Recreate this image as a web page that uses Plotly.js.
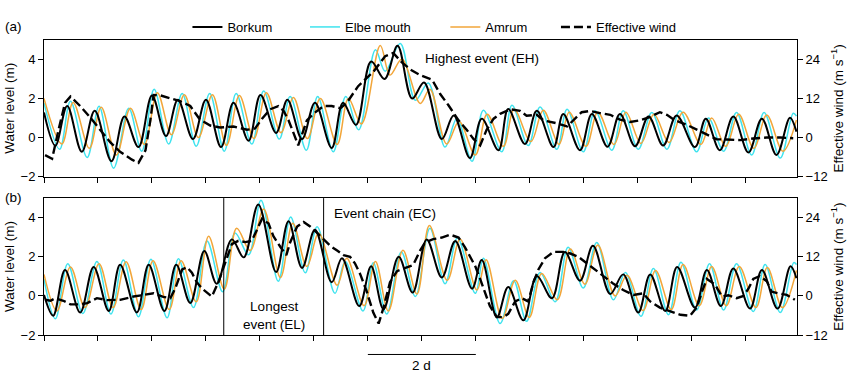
<!DOCTYPE html>
<html>
<head>
<meta charset="utf-8">
<script src="https://cdn.plot.ly/plotly-3.0.1.min.js"></script>
<style>html,body{margin:0;padding:0;background:#fff;}#chart{width:850px;height:373px;}</style>
</head>
<body>
<div id="chart"></div>
<script>
// ---------- Panel (a): highest event ----------
// times in days from start of window; water levels in m; wind in m/s
var aBorkumT = [0.00,0.21,0.43,0.70,0.94,1.25,1.49,1.75,2.00,2.26,2.48,2.76,3.00,3.28,3.51,3.79,4.01,4.30,4.51,4.78,5.02,5.33,5.54,5.78,6.06,6.31,6.55,6.82,7.04,7.37,7.59,7.89,8.11,8.42,8.60,8.91,9.13,9.44,9.62,9.93,10.15,10.44,10.67,10.95,11.20,11.47,11.72,12.06,12.26,12.52,12.77,13.05,13.30,13.57,13.82,13.94];
var aBorkum  = [1.29,-0.41,1.62,-0.73,1.37,-1.21,1.08,-0.49,2.15,0.08,1.94,-0.08,1.94,-0.49,1.78,-0.16,2.18,0.24,1.94,-0.08,1.78,-0.53,1.78,0.65,3.90,3.00,4.70,2.00,2.82,-0.08,1.13,-1.05,0.97,-0.65,1.46,-0.33,1.37,-0.49,1.21,-0.65,1.21,-0.47,1.21,-0.44,1.08,-0.41,1.13,-0.49,0.97,-0.65,1.08,-0.76,0.97,-0.89,1.02,0.30];

var aElbeT = [0.00,0.29,0.49,0.80,1.02,1.29,1.57,1.81,2.04,2.31,2.56,2.82,3.07,3.34,3.56,3.85,4.07,4.36,4.56,4.86,5.07,5.36,5.59,5.83,6.14,6.32,6.60,6.88,7.12,7.43,7.65,7.93,8.14,8.48,8.67,8.97,9.19,9.50,9.69,9.99,10.21,10.52,10.73,11.01,11.26,11.54,11.78,12.09,12.31,12.59,12.83,13.11,13.34,13.64,13.88,13.94];
var aElbe  = [1.78,-0.60,1.86,-1.02,1.60,-1.57,1.50,-0.70,2.48,-0.33,2.26,-0.44,2.26,-0.70,2.26,-0.33,2.38,-0.08,2.10,-0.65,2.10,-0.73,2.10,0.40,4.50,3.40,4.82,1.91,2.80,-0.49,0.98,-1.21,1.40,-0.73,1.66,-0.41,1.57,-0.60,1.45,-0.73,1.37,-0.65,1.37,-0.60,1.29,-0.60,1.37,-0.73,1.00,-0.70,1.29,-0.89,1.29,-1.05,1.25,1.10];

var aAmrumT = [0.00,0.33,0.54,0.84,1.06,1.34,1.60,1.86,2.10,2.36,2.60,2.86,3.12,3.38,3.62,3.89,4.12,4.39,4.62,4.88,5.12,5.43,5.64,5.88,6.23,6.41,6.63,6.97,7.15,7.46,7.69,7.99,8.21,8.51,8.71,9.02,9.25,9.54,9.73,10.04,10.26,10.56,10.78,11.06,11.30,11.58,11.84,12.17,12.37,12.63,12.87,13.15,13.39,13.69,13.94];
var aAmrum  = [2.00,-0.33,1.80,-0.55,1.55,-0.90,1.50,-0.35,2.30,0.15,2.20,0.00,2.20,-0.40,2.15,-0.05,2.30,0.25,2.05,-0.05,2.00,-0.35,2.00,0.70,4.72,3.20,4.01,1.75,2.48,-0.33,0.82,-0.89,1.20,-0.45,1.45,-0.20,1.40,-0.35,1.30,-0.45,1.30,-0.35,1.30,-0.30,1.20,-0.25,1.30,-0.35,1.00,-0.45,1.20,-0.55,1.15,-0.70,0.90];

var aWindT = [0.02,0.15,0.27,0.39,0.49,0.67,0.86,1.04,1.23,1.41,1.63,1.75,1.88,1.97,2.03,2.15,2.34,2.52,2.71,2.89,3.08,3.26,3.51,3.76,3.91,4.04,4.19,4.34,4.44,4.53,4.62,4.71,4.81,4.87,4.99,5.18,5.33,5.49,5.61,5.82,6.10,6.32,6.47,6.63,6.81,6.97,7.19,7.34,7.49,7.68,7.83,7.96,8.08,8.20,8.33,8.45,8.64,8.82,8.94,9.13,9.25,9.50,9.69,9.81,9.96,10.12,10.30,10.49,10.67,10.86,11.04,11.22,11.41,11.54,11.69,11.91,12.09,12.28,12.46,12.65,12.90,13.14,13.39,13.64,13.88];
var aWind  = [-5.4,-6.5,2.4,10.7,12.6,9.7,6.1,2.4,-1.5,-4.4,-6.8,-7.8,-3.9,5.3,13.1,13.0,12.1,11.2,9.7,5.5,3.7,3.1,3.4,2.4,2.8,5.8,8.7,9.7,8.2,5.3,1.5,-2.4,2.4,5.3,7.3,9.7,9.7,9.0,10.7,15.8,20.2,25.0,26.0,23.1,20.7,19.2,17.8,13.4,10.0,5.3,2.4,-0.5,-2.4,2.4,5.8,7.3,8.7,8.2,6.7,7.0,5.3,4.4,3.4,5.3,7.8,8.2,7.5,7.0,5.5,4.8,5.3,6.3,7.8,7.0,5.3,3.9,2.4,1.0,-0.5,-0.6,-0.8,-0.3,0.0,0.0,-0.2];

// ---------- Panel (b): longest event and event chain ----------
var bBorkumT = [0.00,0.17,0.39,0.67,0.92,1.20,1.41,1.72,1.94,2.23,2.45,2.71,2.97,3.20,3.48,3.70,3.97,4.30,4.53,4.78,5.02,5.33,5.52,5.84,6.06,6.29,6.57,6.83,7.09,7.37,7.62,7.93,8.11,8.39,8.60,8.88,9.13,9.41,9.65,9.93,10.17,10.49,10.73,11.01,11.23,11.51,11.73,12.06,12.28,12.54,12.77,13.08,13.30,13.59,13.83,13.94];
var bBorkum  = [0.05,-1.01,1.32,-0.85,1.48,-0.77,1.59,-0.85,1.59,-0.77,1.59,-0.36,2.29,0.62,2.89,1.97,4.68,1.22,3.82,1.43,3.38,0.70,1.92,-0.52,1.51,-0.68,2.00,0.17,2.89,0.94,2.81,0.37,1.83,-1.09,0.45,-1.25,1.02,-0.12,2.24,0.78,2.57,0.10,1.10,-0.85,1.10,-0.77,1.48,-0.60,1.32,-0.52,1.40,-0.65,1.32,-0.65,1.51,0.90];

var bElbeT = [0.00,0.21,0.44,0.72,0.98,1.24,1.47,1.75,1.98,2.28,2.49,2.77,3.02,3.31,3.54,3.79,4.02,4.34,4.57,4.84,5.06,5.39,5.58,5.91,6.10,6.35,6.62,6.88,7.15,7.43,7.66,7.99,8.14,8.45,8.70,8.94,9.19,9.47,9.71,9.99,10.24,10.55,10.77,11.06,11.29,11.57,11.80,12.09,12.33,12.59,12.83,13.14,13.36,13.64,13.89,13.94];
var bElbe  = [0.86,-1.17,1.64,-0.90,1.76,-0.93,1.84,-1.07,1.87,-1.12,1.90,-0.60,2.81,0.21,3.22,2.10,4.89,0.75,4.03,1.18,3.54,0.13,1.76,-0.77,1.70,-0.93,2.25,-0.03,3.46,0.62,2.97,0.13,1.92,-1.41,0.78,-1.30,1.20,-0.30,2.49,0.40,2.73,-0.20,1.19,-1.04,1.40,-0.96,1.72,-0.72,1.64,-0.72,1.64,-0.80,1.60,-0.85,1.70,1.60];

var bAmrumT = [0.00,0.24,0.49,0.76,1.02,1.28,1.52,1.80,2.02,2.32,2.54,2.82,3.05,3.34,3.57,3.82,4.07,4.38,4.61,4.87,5.09,5.43,5.61,5.93,6.14,6.38,6.65,6.91,7.14,7.47,7.71,8.02,8.19,8.49,8.73,8.99,9.22,9.51,9.75,10.02,10.26,10.58,10.80,11.10,11.33,11.62,11.84,12.14,12.37,12.64,12.88,13.19,13.40,13.68,13.94];
var bAmrum  = [1.10,-0.77,1.48,-0.60,1.65,-0.60,1.75,-0.70,1.80,-0.70,1.80,-0.30,3.05,0.35,3.46,2.32,4.44,0.94,3.72,1.50,3.20,0.55,1.92,-0.50,1.76,-0.77,2.33,0.10,3.60,0.80,2.90,0.30,1.85,-1.15,0.80,-1.10,1.15,-0.20,2.40,0.60,2.60,0.00,1.05,-0.75,1.30,-0.70,1.60,-0.50,1.50,-0.50,1.50,-0.60,1.45,-0.60,1.30];

var bWindT = [0.02,0.12,0.21,0.36,0.49,0.67,0.80,0.98,1.17,1.41,1.66,1.84,2.03,2.21,2.34,2.43,2.56,2.65,2.74,2.83,2.93,3.02,3.11,3.23,3.36,3.48,3.60,3.73,3.85,3.94,4.04,4.16,4.25,4.38,4.49,4.56,4.69,4.81,4.93,5.06,5.18,5.30,5.43,5.55,5.67,5.76,5.86,5.98,6.10,6.20,6.29,6.41,6.54,6.69,6.84,6.97,7.06,7.21,7.37,7.52,7.68,7.80,7.89,7.99,8.08,8.17,8.26,8.39,8.51,8.60,8.73,8.85,8.97,9.07,9.16,9.28,9.44,9.62,9.75,9.90,10.06,10.18,10.30,10.43,10.55,10.73,10.92,11.10,11.23,11.41,11.60,11.79,11.97,12.09,12.19,12.28,12.43,12.56,12.68,12.83,12.96,13.05,13.14,13.26,13.39,13.48,13.60,13.76,13.91];
var bWind  = [-1.2,-1.5,-0.7,-1.5,-2.6,-2.6,-2.2,-0.7,-1.3,-1.2,-0.2,0.3,0.8,-0.3,-0.7,2.2,8.1,8.8,7.1,4.2,2.2,1.0,-0.2,4.2,10.0,15.9,16.9,16.5,16.9,20.3,23.7,22.2,18.3,15.0,12.5,16.4,21.3,22.7,21.3,19.3,17.4,15.4,13.9,12.5,12.0,10.0,6.6,1.3,-5.1,-8.5,-3.6,4.2,7.6,8.5,9.5,14.0,16.4,17.4,17.9,18.8,17.9,14.9,12.0,9.1,5.2,1.3,-3.1,-6.5,-6.5,-5.5,-1.7,-0.7,-1.7,4.2,8.1,11.5,13.5,13.5,13.0,12.0,10.0,8.6,7.1,5.2,3.7,1.8,0.3,0.8,-1.7,-3.6,-4.8,-5.8,-6.1,-3.6,1.3,5.2,3.5,-0.2,0.2,-0.7,0.0,2.2,5.2,6.1,4.5,1.3,0.8,0.3,-1.2];

// ---------- Labels ----------
var seriesNames = ['Borkum', 'Elbe mouth', 'Amrum', 'Effective wind'];
var seriesColors = ['#000000', '#3FE3EE', '#F2A63A', '#000000'];
var panelLabels = ['(a)', '(b)'];
var eventBounds = [3.33, 5.18];         // start/end of longest event (EL), days
var scaleBarDays = [6, 8];              // "2 d" scale bar
var xRangeDays = [0, 13.95];

var FONT = 'Liberation Sans, Arial, Helvetica, sans-serif';
var legendIds = ['legend', 'legend2', 'legend3', 'legend4'];

function tide(x, y, i, xa, ya, show) {
  return {x: x, y: y, type: 'scatter', mode: 'lines', name: seriesNames[i],
    xaxis: xa, yaxis: ya, showlegend: show, legend: legendIds[i],
    line: {color: seriesColors[i], width: i === 0 ? 2 : 1.5, shape: 'spline', smoothing: 1},
    hoverinfo: 'skip'};
}
function wind(x, y, xa, ya, show) {
  return {x: x, y: y, type: 'scatter', mode: 'lines', name: seriesNames[3],
    xaxis: xa, yaxis: ya, showlegend: show, legend: legendIds[3],
    line: {color: seriesColors[3], width: 2.4, dash: '9px,4px'}, hoverinfo: 'skip'};
}

var data = [
  tide(aElbeT, aElbe, 1, 'x', 'y', true),
  tide(aAmrumT, aAmrum, 2, 'x', 'y', true),
  tide(aBorkumT, aBorkum, 0, 'x', 'y', true),
  wind(aWindT, aWind, 'x', 'y2', true),
  tide(bElbeT, bElbe, 1, 'x2', 'y3', false),
  tide(bAmrumT, bAmrum, 2, 'x2', 'y3', false),
  tide(bBorkumT, bBorkum, 0, 'x2', 'y3', false),
  wind(bWindT, bWind, 'x2', 'y4', false)
];

var xCommon = {range: xRangeDays, showticklabels: false, ticks: 'outside', ticklen: 5, tickwidth: 1,
  tickcolor: '#000', tick0: 0, dtick: 1, showgrid: false, zeroline: false,
  showline: true, linecolor: '#000', linewidth: 1, mirror: true};
function yLeft(domain, anchor) {
  return {domain: domain, anchor: anchor, range: [-2, 5], tickvals: [-2, 0, 2, 4], ticktext: ['\u22122','0','2','4'],
    ticks: 'outside', ticklen: 5, tickcolor: '#000', showgrid: false, zeroline: false,
    showline: true, linecolor: '#000', linewidth: 1, mirror: true,
    tickfont: {size: 13, color: '#000'},
    title: {text: 'Water level (m)', font: {size: 13.5, color: '#000'}, standoff: 2}};
}
function yRight(over, anchor) {
  return {overlaying: over, anchor: anchor, side: 'right', range: [-12, 30],
    tickvals: [-12, 0, 12, 24], ticktext: ['\u221212','0','12','24'],
    ticks: 'outside', ticklen: 5, tickcolor: '#000', showgrid: false, zeroline: false,
    showline: false, tickfont: {size: 13, color: '#000'},
    title: {text: 'Effective wind (m s<sup>\u22121</sup>)', font: {size: 13.5, color: '#000'}, standoff: 6}};
}
function leg(xp) {
  return {orientation: 'h', x: xp, xanchor: 'left', y: 1.095, yanchor: 'top',
    font: {size: 13, color: '#000'}, bgcolor: 'rgba(0,0,0,0)', borderwidth: 0};
}

var layout = {
  width: 850, height: 373,
  margin: {l: 44, r: 53, t: 26, b: 38},
  paper_bgcolor: '#fff', plot_bgcolor: '#fff',
  font: {family: FONT, color: '#000', size: 13},
  showlegend: true,
  legend: leg(0.1905), legend2: leg(0.3466), legend3: leg(0.5330), legend4: leg(0.6799),
  xaxis: Object.assign({domain: [0, 1], anchor: 'y'}, xCommon),
  yaxis: yLeft([0.537, 1], 'x'),
  yaxis2: yRight('y', 'x'),
  xaxis2: Object.assign({domain: [0, 1], anchor: 'y3'}, xCommon),
  yaxis3: yLeft([0, 0.464], 'x2'),
  yaxis4: yRight('y3', 'x2'),
  shapes: [
    {type: 'line', xref: 'x2', yref: 'y3 domain', x0: eventBounds[0], x1: eventBounds[0], y0: 0, y1: 1, line: {color: '#000', width: 1}},
    {type: 'line', xref: 'x2', yref: 'y3 domain', x0: eventBounds[1], x1: eventBounds[1], y0: 0, y1: 1, line: {color: '#000', width: 1}},
    {type: 'line', xref: 'x2', yref: 'paper', x0: scaleBarDays[0], x1: scaleBarDays[1], y0: -0.066, y1: -0.066, line: {color: '#000', width: 1}}
  ],
  annotations: [
    {text: panelLabels[0], xref: 'paper', yref: 'paper', x: -0.055, y: 1.045, xanchor: 'left', yanchor: 'middle', showarrow: false, font: {size: 13.5}},
    {text: panelLabels[1], xref: 'paper', yref: 'paper', x: -0.055, y: 0.465, xanchor: 'left', yanchor: 'middle', showarrow: false, font: {size: 13.5}},
    {text: 'Highest event (EH)', xref: 'x', yref: 'y', x: 7.03, y: 4.04, xanchor: 'left', yanchor: 'middle', showarrow: false, font: {size: 13.5}},
    {text: 'Event chain (EC)', xref: 'x2', yref: 'y3', x: 5.34, y: 4.22, xanchor: 'left', yanchor: 'middle', showarrow: false, font: {size: 13.5}},
    {text: 'Longest<br>event (EL)', xref: 'x2', yref: 'y3', x: (eventBounds[0] + eventBounds[1]) / 2, y: -1.0, xanchor: 'center', yanchor: 'middle', showarrow: false, font: {size: 13.5}},
    {text: '2 d', xref: 'x2', yref: 'paper', x: (scaleBarDays[0] + scaleBarDays[1]) / 2, y: -0.105, xanchor: 'center', yanchor: 'middle', showarrow: false, font: {size: 13.5}}
  ]
};

Plotly.newPlot('chart', data, layout, {staticPlot: true, displayModeBar: false});
</script>
</body>
</html>
